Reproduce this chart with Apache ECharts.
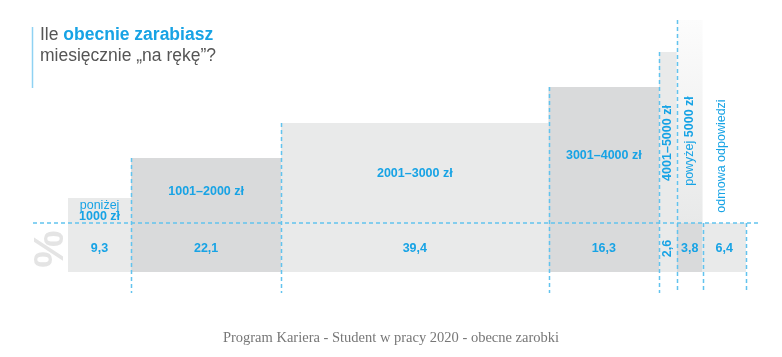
<!DOCTYPE html>
<html>
<head>
<meta charset="utf-8">
<script src="https://cdn.jsdelivr.net/npm/echarts@6/dist/echarts.min.js"></script>
<style>
html,body{margin:0;padding:0;background:#fff;}
#chart{width:782px;height:357px;}
</style>
</head>
<body>
<div id="chart"></div>
<script>
// ---- data ----
const categories = ['poniżej 1000 zł', '1001–2000 zł', '2001–3000 zł', '3001–4000 zł', '4001–5000 zł', 'powyżej 5000 zł', 'odmowa odpowiedzi'];
const shares = [9.3, 22.1, 39.4, 16.3, 2.6, 3.8, 6.4];
const shareLabels = ['9,3', '22,1', '39,4', '16,3', '2,6', '3,8', '6,4'];
// visual stair levels of the bars (income rank), in y-axis units
const stairLevels = [74, 114, 149, 185, 220, 252, 49];
const dividerLevel = 49;

// ---- style ----
const BLUE = '#17a3e5';
const DASH = '#62c3ee';
const LIGHT = '#e9eaea';
const DARK = '#d9dadb';
const FONT = '"Liberation Sans", Arial, sans-serif';
const fadedBar = 5;           // open-ended top category drawn with fade
const verticalBars = [4, 5, 6]; // narrow bars get rotated labels
const verticalLabelLevel = [0, 0, 0, 0, 129, 131, 116];
const verticalLabelShift = [0, 0, 0, 0, 0, 0, -3];

const total = shares.reduce((a, b) => a + b, 0);
const starts = [];
shares.reduce((acc, v, i) => { starts[i] = acc; return acc + v; }, 0);
const seriesData = shares.map((v, i) => [starts[i], v, stairLevels[i], i]);

function richLabel(name, multiline) {
  const idx = name.search(/\d/);
  if (idx === -1) return '{r|' + name + '}';
  const pre = name.slice(0, idx).trim();
  const rest = name.slice(idx);
  if (!pre) return '{b|' + rest + '}';
  return '{r|' + pre + '}' + (multiline ? '\n' : '{r| }') + '{b|' + rest + '}';
}
const rich = {
  r: { fontFamily: FONT, fontSize: 12.5, fontWeight: 'normal', fill: BLUE, lineHeight: 11 },
  b: { fontFamily: FONT, fontSize: 12.5, fontWeight: 'bold', fill: BLUE, lineHeight: 11 }
};

const chart = echarts.init(document.getElementById('chart'), null, { renderer: 'canvas' });

function barsRender(params, api) {
  const x0 = api.value(0), w = api.value(1), h = api.value(2), i = api.value(3);
  const pBL = api.coord([x0, 0]);
  const pDR = api.coord([x0 + w, dividerLevel]);
  const pTop = api.coord([x0 + w, h]);
  const fill = i % 2 === 0 ? LIGHT : DARK;
  const children = [{
    type: 'rect',
    shape: { x: pBL[0], y: pDR[1], width: pDR[0] - pBL[0], height: pBL[1] - pDR[1] },
    style: { fill: fill }
  }];
  if (h > dividerLevel) {
    children.push({
      type: 'rect',
      shape: { x: pBL[0], y: pTop[1], width: pDR[0] - pBL[0], height: pDR[1] - pTop[1] },
      style: {
        fill: i === fadedBar
          ? new echarts.graphic.LinearGradient(0, 0, 0, 1, [{ offset: 0, color: '#fcfcfc' }, { offset: 1, color: '#e8e9e9' }])
          : fill
      }
    });
  }
  return { type: 'group', children: children };
}

function linesRender(params, api) {
  const x0 = api.value(0), w = api.value(1), h = api.value(2), i = api.value(3);
  const yMin = -21;
  const children = [];
  const lineStyle = { stroke: DASH, lineWidth: 1.5, lineDash: [4, 3] };
  if (i > 0) {
    const top = api.coord([x0, Math.max(h, dividerLevel)]);
    const bot = api.coord([x0, yMin]);
    children.push({ type: 'line', shape: { x1: Math.round(top[0]) + 0.5, y1: top[1], x2: Math.round(top[0]) + 0.5, y2: bot[1] }, style: lineStyle });
  }
  if (i === shares.length - 1) {
    const top = api.coord([x0 + w, dividerLevel]);
    const bot = api.coord([x0 + w, yMin]);
    children.push({ type: 'line', shape: { x1: Math.round(top[0]) + 0.5, y1: top[1], x2: Math.round(top[0]) + 0.5, y2: bot[1] }, style: lineStyle });
  }
  if (i === 0) {
    const cs = params.coordSys;
    const y = api.coord([0, dividerLevel])[1];
    children.push({ type: 'line', shape: { x1: cs.x - 35, y1: y, x2: cs.x + cs.width + 12, y2: y }, style: lineStyle });
  }
  return { type: 'group', children: children };
}

function labelsRender(params, api) {
  const x0 = api.value(0), w = api.value(1), h = api.value(2), i = api.value(3);
  const cx = api.coord([x0 + w / 2, 0])[0];
  const yVal = api.coord([0, dividerLevel / 2])[1] + 1;
  const vertical = verticalBars.indexOf(i) !== -1;
  const children = [];
  // value label
  children.push({
    type: 'text',
    x: cx, y: yVal,
    rotation: (vertical && shares[i] < 3) ? Math.PI / 2 : 0,
    style: { text: shareLabels[i], fill: BLUE, font: 'bold 12.5px ' + FONT, align: 'center', verticalAlign: 'middle' }
  });
  // category label
  if (vertical) {
    const y = api.coord([0, verticalLabelLevel[i]])[1];
    children.push({
      type: 'text', x: cx + verticalLabelShift[i], y: y, rotation: Math.PI / 2,
      style: { text: richLabel(categories[i], false), rich: rich, align: 'center', verticalAlign: 'middle', fill: BLUE, font: '12.5px ' + FONT }
    });
  } else {
    const y = api.coord([0, (h + dividerLevel) / 2])[1] + 1;
    children.push({
      type: 'text', x: cx, y: y,
      style: { text: richLabel(categories[i], true), rich: rich, align: 'center', verticalAlign: 'middle', fill: BLUE, font: '12.5px ' + FONT }
    });
  }
  return { type: 'group', children: children };
}

chart.setOption({
  animation: false,
  backgroundColor: '#ffffff',
  grid: { left: 68, right: 36, top: 20, bottom: 64 },
  xAxis: { type: 'value', min: 0, max: total, show: false },
  yAxis: { type: 'value', min: -21, max: 252, show: false },
  series: [
    { type: 'custom', z: 1, data: seriesData, renderItem: barsRender, silent: true },
    { type: 'custom', z: 2, data: seriesData, renderItem: linesRender, silent: true },
    { type: 'custom', z: 3, data: seriesData, renderItem: labelsRender, silent: true }
  ],
  graphic: [
    { type: 'line', shape: { x1: 32.5, y1: 27, x2: 32.5, y2: 88 }, style: { stroke: '#8fd2f3', lineWidth: 1.5 } },
    {
      type: 'text', left: 40, top: 26,
      style: {
        text: '{r|Ile }{b|obecnie zarabiasz}\n{r|miesięcznie „na rękę”?}',
        rich: {
          r: { fontFamily: FONT, fontSize: 17.5, fill: '#555555', lineHeight: 21 },
          b: { fontFamily: FONT, fontSize: 17.5, fontWeight: 'bold', fill: BLUE, lineHeight: 21 }
        }
      }
    },
    {
      type: 'text', x: 51, y: 249, rotation: Math.PI / 2,
      style: { text: '%', fill: '#e4e4e4', font: 'bold 42px ' + FONT, align: 'center', verticalAlign: 'middle' },
      z: 0
    },
    {
      type: 'text', x: 391, y: 338,
      style: { text: 'Program Kariera - Student w pracy 2020 - obecne zarobki', fill: '#777777', font: '14.5px "Liberation Serif", serif', align: 'center', verticalAlign: 'middle' }
    }
  ]
});
</script>
</body>
</html>
